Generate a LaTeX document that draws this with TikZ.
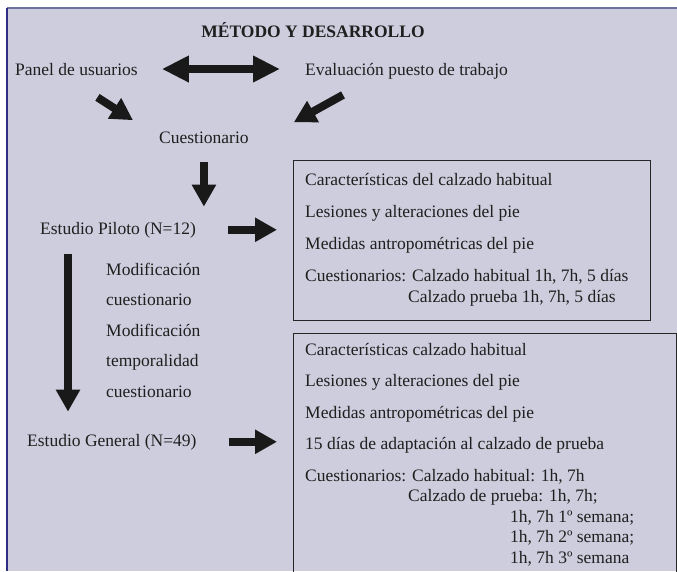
\documentclass[tikz,border=0pt]{standalone}
\usepackage{fontspec}
\setmainfont{Liberation Serif}
\usetikzlibrary{arrows.meta}
\definecolor{panelbg}{RGB}{205,205,221}
\definecolor{panelrule}{RGB}{46,46,128}
\definecolor{toprule}{RGB}{112,112,160}
\tikzset{
  txt/.style={font=\fontsize{17.5}{21}\selectfont, inner sep=0pt, text=black!88, anchor=base west},
  fat/.style={line width=8pt, draw=black!90, -{Triangle[length=22pt,width=23pt]}},
  fatboth/.style={line width=8pt, draw=black!90, {Triangle[length=27pt,width=25pt]}-{Triangle[length=27pt,width=25pt]}},
  infobox/.style={draw=black!85, line width=1.2pt, inner sep=0pt, anchor=north west}
}
\begin{document}
\begin{tikzpicture}[x=1pt, y=-1pt]
    \clip (0,0) rectangle (677,571);
    \fill[white] (0,0) rectangle (677,571);
    \fill[panelbg] (7,8) rectangle (677,571);
    \draw[toprule, line width=2pt] (7,8) -- (677,8);
    \draw[panelrule, line width=2pt] (7,8) -- (7,571);

    \node[txt, anchor=base, font=\fontsize{17.5}{21}\selectfont\bfseries] (title) at (313,37) {MÉTODO Y DESARROLLO};
    \node[txt] (panel) at (15,75) {Panel de usuarios};
    \node[txt] (evalua) at (305,75) {Evaluación puesto de trabajo};
    \node[txt] (cuest) at (159,143) {Cuestionario};
    \node[txt] (piloto) at (40,234) {Estudio Piloto (N=12)};
    \node[txt] (general) at (27,446) {Estudio General (N=49)};

    \node[txt] (modif1) at (106,275) {Modificación};
    \node[txt] (modif2) at (106,305.5) {cuestionario};
    \node[txt] (modif3) at (106,336) {Modificación};
    \node[txt] (modif4) at (106,366.5) {temporalidad};
    \node[txt] (modif5) at (106,397) {cuestionario};

    \node[infobox, minimum width=357pt, minimum height=160pt] (box1) at (293,160) {};
    \node[txt] (b1l1) at (305,185) {Características del calzado habitual};
    \node[txt] (b1l2) at (305,217) {Lesiones y alteraciones del pie};
    \node[txt] (b1l3) at (305,249) {Medidas antropométricas del pie};
    \node[txt] (b1l4) at (305,281) {Cuestionarios: Calzado habitual 1h, 7h, 5 días};
    \node[txt] (b1l5) at (408,302) {Calzado prueba 1h, 7h, 5 días};

    \node[infobox, minimum width=383pt, minimum height=250pt] (box2) at (293,333) {};
    \node[txt] (b2l1) at (305,355) {Características calzado habitual};
    \node[txt] (b2l2) at (305,386.5) {Lesiones y alteraciones del pie};
    \node[txt] (b2l3) at (305,418) {Medidas antropométricas del pie};
    \node[txt] (b2l4) at (305,449.5) {15 días de adaptación al calzado de prueba};
    \node[txt] (b2l5) at (305,481) {Cuestionarios: Calzado habitual: 1h, 7h};
    \node[txt] (b2l6) at (408,501.5) {Calzado de prueba: 1h, 7h;};
    \node[txt] (b2l7) at (510,522) {1h, 7h 1º semana;};
    \node[txt] (b2l8) at (510,542.5) {1h, 7h 2º semana;};
    \node[txt] (b2l9) at (510,563) {1h, 7h 3º semana};

    \draw[fatboth, shorten <=24pt, shorten >=25pt] (panel.east) -- (panel.east -| evalua.west);
    \draw[fat] ([shift={(21,22)}]panel.south) -- ([shift={(-26,-11)}]cuest.north west);
    \draw[fat] ([shift={(38,16)}]evalua.south west) -- ([shift={(45,-9)}]cuest.north east);
    \draw[fat, shorten <=19pt, shorten >=15pt] (cuest.south) -- (cuest.south |- piloto.north);
    \draw[fat, shorten <=32pt, shorten >=16pt] (piloto.east) -- (piloto.east -| box1.west);
    \draw[fat, shorten <=16pt, shorten >=22pt] ([xshift=28pt]piloto.south west) -- ([xshift=28pt]piloto.south west |- general.north);
    \draw[fat, shorten <=32pt, shorten >=16pt] (general.east) -- (general.east -| box2.west);
\end{tikzpicture}
\end{document}
